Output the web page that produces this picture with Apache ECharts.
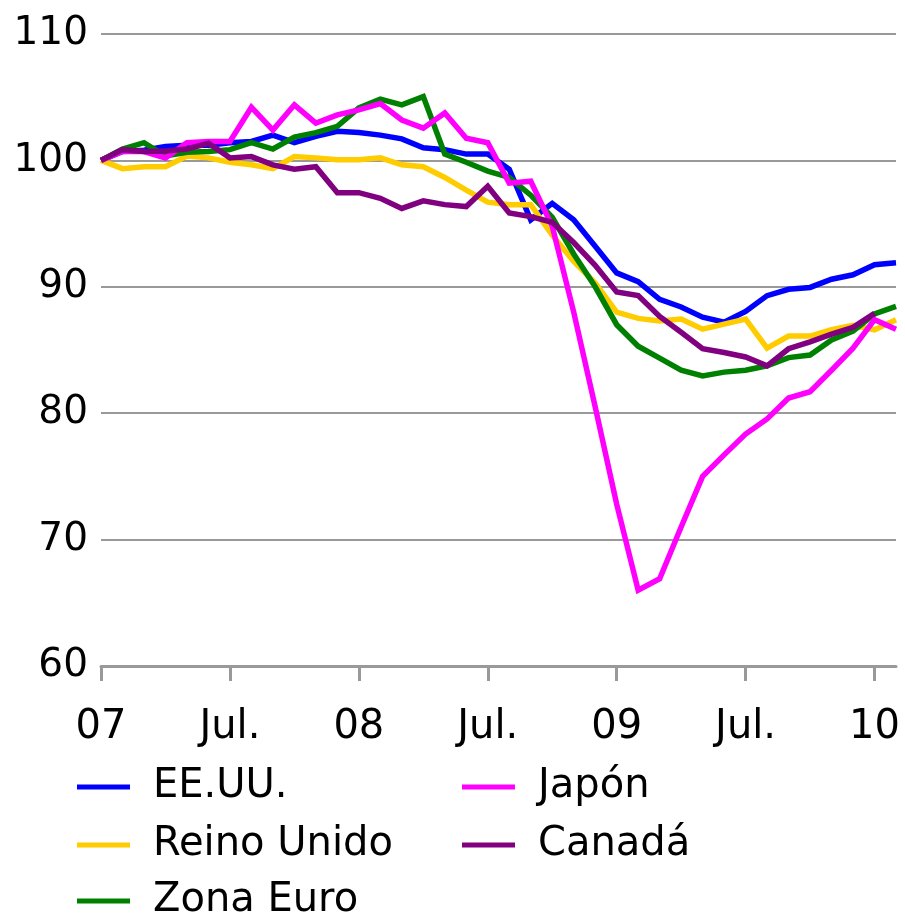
<!DOCTYPE html>
<html>
<head>
<meta charset="utf-8">
<script src="https://cdn.jsdelivr.net/npm/echarts@6/dist/echarts.min.js"></script>
<style>
html,body{margin:0;padding:0;background:#fff;}
#chart{width:905px;height:918px;}
</style>
</head>
<body>
<div id="chart"></div>
<script>
var categories = [
  "2007-01","2007-02","2007-03","2007-04","2007-05","2007-06","2007-07","2007-08","2007-09","2007-10","2007-11","2007-12",
  "2008-01","2008-02","2008-03","2008-04","2008-05","2008-06","2008-07","2008-08","2008-09","2008-10","2008-11","2008-12",
  "2009-01","2009-02","2009-03","2009-04","2009-05","2009-06","2009-07","2009-08","2009-09","2009-10","2009-11","2009-12",
  "2010-01","2010-02"
];
var tickLabels = ["07","Jul.","08","Jul.","09","Jul.","10"];

var eeuu = [100,100.7,100.8,101.1,101.2,101.2,101.4,101.5,102.0,101.4,101.9,102.3,
  102.2,102.0,101.7,101.0,100.85,100.5,100.5,99.3,95.3,96.6,95.3,93.2,
  91.1,90.4,89.0,88.4,87.6,87.2,88.05,89.3,89.8,89.95,90.6,90.95,91.75,91.9];
var reinoUnido = [100,99.35,99.5,99.5,100.35,100.2,99.85,99.65,99.35,100.3,100.2,100.05,
  100.05,100.2,99.65,99.5,98.65,97.65,96.7,96.5,96.5,94.1,92.0,90.3,
  88.0,87.5,87.3,87.45,86.65,87.05,87.45,85.15,86.1,86.1,86.6,86.95,86.6,87.4];
var zonaEuro = [100,100.9,101.4,100.35,100.65,100.7,100.85,101.4,100.9,101.85,102.2,102.7,
  104.15,104.85,104.4,105.05,100.5,99.85,99.15,98.65,97.25,95.5,92.6,90.0,
  87.0,85.3,84.35,83.4,82.95,83.25,83.4,83.75,84.4,84.6,85.8,86.5,87.85,88.45];
var japon = [100,100.7,100.7,100.2,101.4,101.5,101.5,104.2,102.4,104.4,102.95,103.6,
  104.0,104.5,103.2,102.55,103.75,101.75,101.4,98.2,98.35,94.8,88.0,80.5,
  72.8,66.0,66.9,71.0,75.0,76.7,78.35,79.55,81.2,81.7,83.4,85.15,87.4,86.65];
var canada = [100,100.85,100.7,100.75,100.9,101.35,100.2,100.3,99.65,99.3,99.5,97.45,
  97.45,97.0,96.2,96.8,96.5,96.35,97.95,95.85,95.55,95.1,93.5,91.7,
  89.6,89.3,87.65,86.4,85.1,84.8,84.45,83.75,85.1,85.65,86.25,86.8,87.9,null];

var FONT = "DejaVu Sans";
var chart = echarts.init(document.getElementById('chart'), null, {renderer:'canvas'});

function mk(name, data, color) {
  return {
    name: name, type: 'line', data: data, symbol: 'none', showSymbol: false,
    lineStyle: {color: color, width: 5.5, join: 'miter'},
    itemStyle: {color: color},
    connectNulls: false, animation: false
  };
}

function lg(name, left, top) {
  return {
    orient: 'horizontal', left: left, top: top, padding: 0, icon: 'rect', itemWidth: 53, itemHeight: 5,
    textStyle: {fontFamily: FONT, fontSize: 40, lineHeight: 40, color: '#000', padding: [0,0,0,18]},
    selectedMode: false, data: [name]
  };
}

chart.setOption({
  animation: false,
  backgroundColor: '#fff',
  grid: {left: 101, right: 9, top: 34, bottom: 252, containLabel: false},
  legend: [
    lg('EE.UU.', 77, 767),
    lg('Reino Unido', 77, 825),
    lg('Zona Euro', 77, 881),
    lg('Japón', 462, 767),
    lg('Canadá', 462, 825)
  ],
  xAxis: {
    type: 'category', boundaryGap: false, data: categories,
    axisLine: {show: true, lineStyle: {color: '#999', width: 3}},
    axisTick: {show: true, interval: 5, length: 15, lineStyle: {color: '#999', width: 3}},
    axisLabel: {
      interval: 5, margin: 42, fontFamily: FONT, fontSize: 40, color: '#000',
      formatter: function (v, i) { return tickLabels[Math.round(i / 6)]; }
    },
    splitLine: {show: false}
  },
  yAxis: {
    type: 'value', min: 60, max: 110, interval: 10,
    axisLine: {show: false}, axisTick: {show: false},
    axisLabel: {margin: 13, fontFamily: FONT, fontSize: 39, color: '#000'},
    splitLine: {show: true, lineStyle: {color: '#999', width: 2}}
  },
  series: [
    mk('EE.UU.', eeuu, '#0000FF'),
    mk('Reino Unido', reinoUnido, '#FFCC00'),
    mk('Zona Euro', zonaEuro, '#008000'),
    mk('Japón', japon, '#FF00FF'),
    mk('Canadá', canada, '#800080')
  ]
});
</script>
</body>
</html>
